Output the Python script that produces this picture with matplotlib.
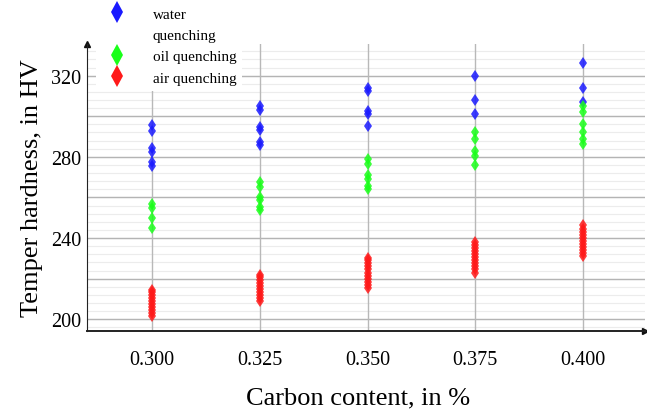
import matplotlib
matplotlib.use("Agg")
import matplotlib.pyplot as plt
from matplotlib.lines import Line2D
import numpy as np

plt.rcParams['font.family'] = ['Liberation Serif', 'DejaVu Serif']

carbon = [0.300, 0.325, 0.350, 0.375, 0.400]
xtick_labels = ["0.300", "0.325", "0.350", "0.375", "0.400"]

# hardness readings, one list per carbon content
water_quenching = [
    [295.5, 292.5, 284.5, 282.5, 277.5, 275.5],
    [305.3, 303.0, 294.5, 293.0, 287.5, 286.0],
    [314.0, 312.5, 302.5, 301.0, 295.0],
    [320.0, 308.0, 301.0],
    [326.3, 314.0, 307.0],
]
oil_quenching = [
    [257.0, 255.0, 250.0, 245.0],
    [267.5, 265.0, 260.0, 258.5, 255.5, 254.0],
    [279.0, 276.5, 271.0, 269.0, 265.5, 264.0],
    [292.0, 289.0, 283.0, 280.5, 276.0],
    [305.0, 302.0, 296.0, 292.0, 289.0, 286.5],
]
air_quenching = [
    [201.5, 203.0, 204.5, 206.0, 207.5, 209.0, 210.5, 212.0, 213.5, 214.5],
    [209.0, 210.5, 212.0, 213.5, 215.0, 216.5, 218.0, 219.5, 221.0, 222.0],
    [215.5, 217.0, 218.5, 220.0, 221.5, 223.0, 224.5, 226.0, 227.5, 229.0, 230.0],
    [223.0, 224.5, 226.0, 227.5, 229.0, 230.5, 232.0, 233.5, 235.0, 236.5, 238.0],
    [231.0, 232.5, 234.0, 235.5, 237.0, 238.5, 240.0, 241.5, 243.0, 244.5, 246.5],
]

series = [
    (water_quenching, "#1a1aff"),
    (oil_quenching, "#1aff1a"),
    (air_quenching, "#ff1a1a"),
]

fig = plt.figure(figsize=(6.47, 4.14), dpi=100)
ax = fig.add_axes([87 / 647, 82 / 414, 558 / 647, 287 / 414])

for values, color in series:
    for c, ys in zip(carbon, values):
        ax.plot([c] * len(ys), ys, linestyle="none", marker="d", markersize=6,
                color=color, markeredgewidth=0, alpha=0.85, zorder=3)

ax.set_xlim(0.2849, 0.4144)
ax.set_ylim(194.2, 335.6)

ax.set_xticks(carbon)
ax.set_xticklabels(xtick_labels)
ax.set_yticks([200, 240, 280, 320])

# grid: light minor lines, grey majors every 20
for y in np.arange(196, 336, 4):
    ax.axhline(y, color="#ececec", lw=0.8, zorder=0)
for y in np.arange(200, 340, 20):
    ax.axhline(y, color="#b4b4b4", lw=1.0, zorder=1)
for c in carbon:
    ax.axvline(c, color="#b8b8b8", lw=1.0, zorder=1)

ax.tick_params(axis="both", which="both", length=0, labelsize=14.5)
ax.tick_params(axis="x", pad=14)
ax.tick_params(axis="y", pad=4)

for s in ["top", "right"]:
    ax.spines[s].set_visible(False)
ax.spines["left"].set_color("#222222")
ax.spines["bottom"].set_color("#222222")
ax.spines["bottom"].set_linewidth(1.4)

# arrow heads on the axes
ax.plot(1, 0, ">", color="#111111", markersize=4, transform=ax.transAxes, clip_on=False)
ax.plot(0, 1, "^", color="#111111", markersize=4, transform=ax.transAxes, clip_on=False)

ax.set_xlabel("Carbon content, in %", fontsize=19, labelpad=12)
ax.xaxis.label.set_x((358 - 87) / 558)
ax.set_ylabel("Temper hardness, in HV", fontsize=19, labelpad=6)

handles = [
    Line2D([], [], linestyle="none", marker="d", markersize=11, color="#1a1aff", markeredgewidth=0),
    Line2D([], [], linestyle="none"),
    Line2D([], [], linestyle="none", marker="d", markersize=11, color="#1aff1a", markeredgewidth=0),
    Line2D([], [], linestyle="none", marker="d", markersize=11, color="#ff1a1a", markeredgewidth=0),
]
labels = ["water", "quenching", "oil quenching", "air quenching"]
fig.legend(handles, labels, loc="upper left", bbox_to_anchor=(96 / 647, 1 - 2 / 414),
           frameon=True, facecolor="white", edgecolor="none", framealpha=1,
           fontsize=11, handletextpad=1.3, labelspacing=0.5, borderaxespad=0,
           fancybox=False)

fig.savefig("out.png", dpi=100)
